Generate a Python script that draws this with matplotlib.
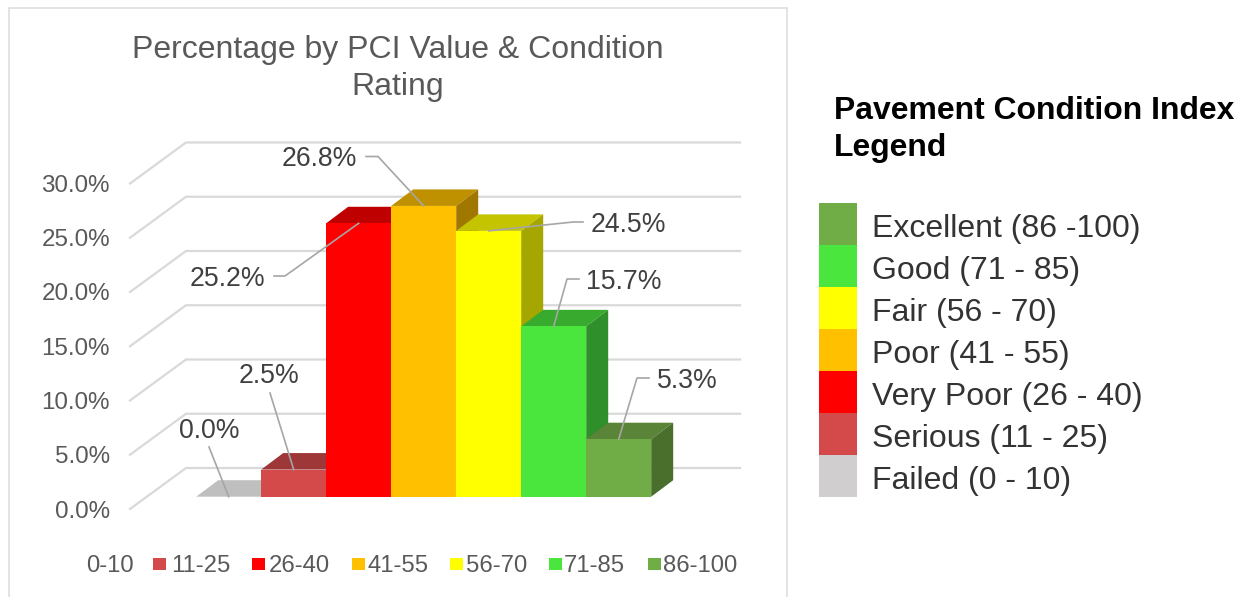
import matplotlib
matplotlib.use("Agg")
import matplotlib.pyplot as plt
from matplotlib.patches import Polygon, Rectangle

plt.rcParams['font.family'] = ['Liberation Sans', 'DejaVu Sans']

# data
categories = ['0-10', '11-25', '26-40', '41-55', '56-70', '71-85', '86-100']
values = [0.0, 2.5, 25.2, 26.8, 24.5, 15.7, 5.3]
y_ticks = [0, 5, 10, 15, 20, 25, 30]
front_colors = ['#bfbfbf', '#d44a4a', '#ff0000', '#ffc000', '#ffff00', '#4ae63e', '#70ad47']
top_colors = ['#bfbfbf', '#9e3737', '#bf0000', '#bf9000', '#c4c400', '#38ab2e', '#5a8437']
side_colors = ['#a6a6a6', '#7f2c2c', '#990000', '#a07800', '#a6a600', '#2f8f2a', '#4a6e2c']
legend_labels = ['Excellent (86 -100)', 'Good (71 - 85)', 'Fair (56 - 70)', 'Poor (41 - 55)',
                 'Very Poor (26 - 40)', 'Serious (11 - 25)', 'Failed (0 - 10)']
legend_colors = ['#70ad47', '#4ae63e', '#ffff00', '#ffc000', '#ff0000', '#d44a4a', '#d0cece']

W, H = 1246, 597
X0, Y0 = 196.2, 496.7   # pixel position of category 0, value 0
XS, YS = 65.0, 10.85    # pixels per bar / per percent
text_c = '#404040'
grey = '#595959'
T = 2.5                 # text sits a little low in the reference

fig = plt.figure(figsize=(W / 100, H / 100), dpi=100)
ax = fig.add_axes([0, 0, 1, 1])
ax.set_xlim(-X0 / XS, (W - X0) / XS)
ax.set_ylim((Y0 - H) / YS, Y0 / YS)
ax.axis('off')


def dx(px):
    return (px - X0) / XS


def dy(py):
    return (Y0 - py) / YS


# chart frame
ax.plot([dx(9), dx(9), dx(787), dx(787)], [dy(597), dy(8.5), dy(8.5), dy(597)],
        color='#e0e0e0', lw=1.3, zorder=1)

# walls
depth_x, depth_y = 22 / XS, 16.5 / YS
for t in y_ticks:
    ax.plot([dx(130), dx(186), dx(740)],
            [dy(509) + t, dy(468) + t, dy(468) + t],
            color='#d9d9d9', lw=1.6, zorder=2, solid_joinstyle='miter')
    ax.text(dx(110), dy(509 + T) + t, '%.1f%%' % t, ha='right', va='center',
            fontsize=17.4, color=grey, zorder=3)

# bars
for i, v in enumerate(values):
    z = 4 + i
    ax.add_patch(Polygon([(i, v), (i + depth_x, v + depth_y), (i + 1 + depth_x, v + depth_y), (i + 1, v)],
                         fc=top_colors[i], ec='none', zorder=z))
    if v > 0:
        ax.add_patch(Rectangle((i, 0), 1, v, fc=front_colors[i], ec='none', zorder=z))
        ax.add_patch(Polygon([(i + 1, 0), (i + 1 + depth_x, depth_y), (i + 1 + depth_x, v + depth_y), (i + 1, v)],
                             fc=side_colors[i], ec='none', zorder=z))

# data labels with leader lines
label_pos = [(209, 428), (269, 374), (227, 277), (319, 157), (628, 223), (624, 280), (687, 379)]
leader_pts = [[(209, 447)], [(270, 393)], [(285, 276), (274, 276)], [(378, 156.5), (366, 156.5)],
              [(573, 222), (583, 222)], [(567, 279), (579, 279)], [(637, 378), (649, 378)]]
for i, v in enumerate(values):
    xs = [i + 0.5] + [dx(p[0]) for p in leader_pts[i]]
    ys = [v] + [dy(p[1]) for p in leader_pts[i]]
    ax.plot(xs, ys, color='#a6a6a6', lw=1.2, zorder=20)
    ax.text(dx(label_pos[i][0]), dy(label_pos[i][1] + T), '%.1f%%' % v, ha='center', va='center',
            fontsize=19.2, color=text_c, zorder=21)

# title
ax.text(dx(398), dy(48 + T), 'Percentage by PCI Value & Condition', ha='center', va='center',
        fontsize=23.0, color=grey)
ax.text(dx(398), dy(85 + T), 'Rating', ha='center', va='center', fontsize=23.0, color=grey)

# bottom legend
sw_x = [None, 153, 252, 352, 450, 549, 648]
tx_x = [86, 171, 269, 367, 466, 564, 663]
for i, c in enumerate(categories):
    if sw_x[i] is not None:
        ax.add_patch(Rectangle((dx(sw_x[i]), dy(570)), 13 / XS, 12 / YS, fc=front_colors[i], ec='none'))
    ax.text(dx(tx_x[i]), dy(564 + T), c, ha='left', va='center', fontsize=17.2, color=grey)

# side legend
ax.text(dx(834), dy(109 + T), 'Pavement Condition Index', ha='left', va='center',
        fontsize=22.95, fontweight='bold', color='black')
ax.text(dx(834), dy(146 + T), 'Legend', ha='left', va='center',
        fontsize=22.95, fontweight='bold', color='black')
for i, lab in enumerate(legend_labels):
    top = 203 + i * 42
    ax.add_patch(Rectangle((dx(819), dy(top + 42)), 38 / XS, 42 / YS, fc=legend_colors[i], ec='none'))
    ax.text(dx(872), dy(top + 24 + T), lab, ha='left', va='center', fontsize=23, color='#333333')

fig.savefig('out.png', dpi=100)
